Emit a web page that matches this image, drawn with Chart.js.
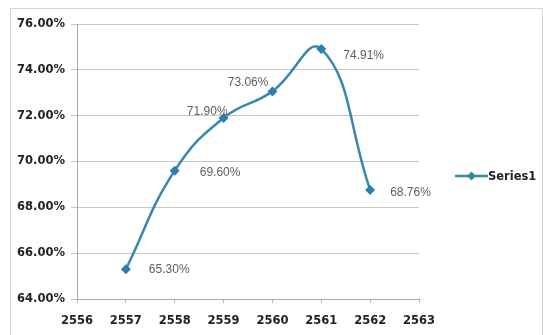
<!DOCTYPE html>
<html>
<head>
<meta charset="utf-8">
<script src="https://cdn.jsdelivr.net/npm/chart.js@4"></script>
<style>
  html, body { margin: 0; padding: 0; background: #fff; }
  #wrap { width: 543px; height: 335px; position: relative; }
</style>
</head>
<body>
<div id="wrap"><canvas id="chart"></canvas></div>
<script>
// data
const years = [2557, 2558, 2559, 2560, 2561, 2562];
const series1 = [65.30, 69.60, 71.90, 73.06, 74.91, 68.76];
const seriesName = 'Series1';
const yTicks = [64, 66, 68, 70, 72, 74, 76];
const xTicks = [2556, 2557, 2558, 2559, 2560, 2561, 2562, 2563];

const lineColor = '#3b87ad';

// where each value label sits next to its point (dx, dy, align)
const labelPlace = [
  [23, 0, 'left'],
  [25, 2, 'left'],
  [4, -6, 'right'],
  [-4, -9, 'right'],
  [22, 7, 'left'],
  [20, 3, 'left']
];

// frame + value labels + legend
const extras = {
  id: 'extras',
  beforeDraw(chart) {
    const ctx = chart.ctx;
    ctx.save();
    ctx.fillStyle = '#fff';
    ctx.fillRect(0, 0, chart.width, chart.height);
    ctx.strokeStyle = '#d4d4d4';
    ctx.lineWidth = 1;
    ctx.strokeRect(10.5, 8.5, 532, 340);
    ctx.restore();
  },
  afterDatasetsDraw(chart) {
    const ctx = chart.ctx;
    const meta = chart.getDatasetMeta(0);
    ctx.save();
    ctx.font = '12px "Liberation Sans", Arial, sans-serif';
    ctx.fillStyle = '#5f5f5f';
    ctx.textBaseline = 'middle';
    meta.data.forEach((pt, i) => {
      const p = labelPlace[i];
      ctx.textAlign = p[2];
      ctx.fillText(series1[i].toFixed(2) + '%', pt.x + p[0], pt.y + p[1]);
    });
    // legend
    const ly = 176;
    ctx.strokeStyle = lineColor;
    ctx.lineWidth = 2.5;
    ctx.beginPath();
    ctx.moveTo(455, ly);
    ctx.lineTo(488, ly);
    ctx.stroke();
    ctx.fillStyle = lineColor;
    ctx.beginPath();
    ctx.moveTo(471.5, ly - 4.5);
    ctx.lineTo(476, ly);
    ctx.lineTo(471.5, ly + 4.5);
    ctx.lineTo(467, ly);
    ctx.closePath();
    ctx.fill();
    ctx.font = 'bold 11.5px "DejaVu Sans", sans-serif';
    ctx.fillStyle = '#222';
    ctx.textAlign = 'left';
    ctx.fillText(seriesName, 488, ly + 1);
    ctx.restore();
  }
};

new Chart(document.getElementById('chart'), {
  type: 'scatter',
  data: {
    datasets: [{
      label: seriesName,
      data: years.map((y, i) => ({ x: y, y: series1[i] })),
      showLine: true,
      tension: 0.45,
      borderColor: lineColor,
      borderWidth: 2.5,
      backgroundColor: '#2c7fb0',
      pointStyle: 'rectRot',
      pointRadius: 5,
      pointBorderWidth: 0,
      clip: false
    }]
  },
  options: {
    responsive: true,
    maintainAspectRatio: false,
    animation: false,
    layout: { padding: { top: 24, right: 124, left: 0, bottom: 0 } },
    plugins: { legend: { display: false }, tooltip: { enabled: false } },
    scales: {
      x: {
        type: 'linear',
        min: 2556,
        max: 2563,
        afterBuildTicks: s => { s.ticks = xTicks.map(v => ({ value: v })); },
        afterFit: s => { s.height = 36; },
        grid: { drawOnChartArea: false, tickLength: 4, color: '#b8b8b8' },
        border: { color: '#a8a8a8' },
        ticks: {
          padding: 11,
          color: '#222',
          font: { family: '"DejaVu Sans", sans-serif', size: 11.5, weight: 'bold' },
          callback: v => String(v)
        }
      },
      y: {
        min: 64,
        max: 76,
        afterBuildTicks: s => { s.ticks = yTicks.map(v => ({ value: v })); },
        afterFit: s => { s.width = 77; },
        grid: { color: '#c6c6c6', tickLength: 6 },
        border: { color: '#a8a8a8' },
        ticks: {
          padding: 6,
          color: '#222',
          font: { family: '"DejaVu Sans", sans-serif', size: 11.5, weight: 'bold' },
          callback: v => v.toFixed(2) + '%'
        }
      }
    }
  },
  plugins: [extras]
});
</script>
</body>
</html>
